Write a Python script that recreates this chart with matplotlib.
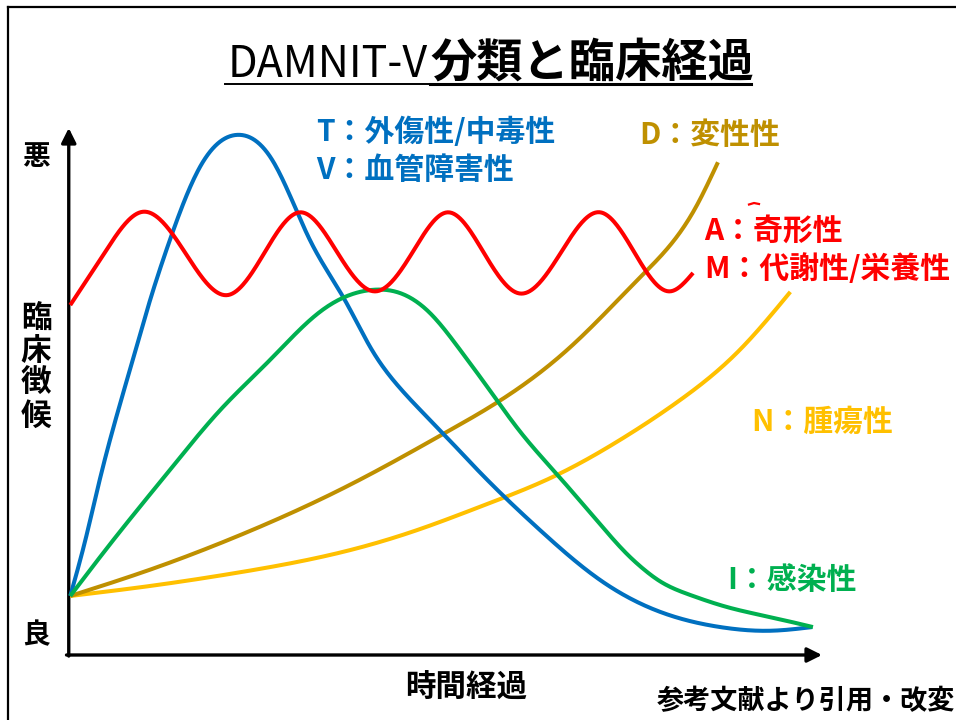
import matplotlib
matplotlib.use('Agg')
import numpy as np
import matplotlib.pyplot as plt
from matplotlib.lines import Line2D

plt.rcParams['font.family'] = ['Noto Sans CJK JP', 'DejaVu Sans']

# ---------------- data (time 0-100, severity 0-100) ----------------
blue_t = [0.3, 2.3, 4.2, 8.2, 10.9, 13.5, 17.5, 22.5, 27.1, 32.1, 36.7, 40.3, 44.0,
          49.3, 54.6, 62.6, 70.6, 78.5, 86.5, 93.1, 98.7]
blue_v = [11.2, 21.8, 33.2, 54.1, 67.4, 78.7, 92.6, 98.7, 93.9, 78.7, 67.4, 57.9, 50.7,
          42.7, 34.7, 23.7, 14.2, 8.2, 5.3, 4.6, 5.3]

green_t = [0.3, 6.0, 13.5, 20.2, 26.8, 33.4, 40.5, 44.0, 48.0, 52.0, 55.6, 59.9, 64.9,
           71.0, 73.9, 76.5, 78.5, 82.5, 87.4, 93.1, 98.8]
green_v = [11.2, 21.8, 35.1, 46.5, 56.0, 65.1, 69.3, 68.7, 64.9, 57.9, 50.9, 42.5, 34.2,
           24.1, 19.5, 16.1, 14.0, 11.4, 9.1, 7.2, 5.3]

gold_t = [0.3, 10.9, 22.4, 37.4, 50.7, 54.6, 61.3, 66.6, 75.9, 83.2, 86.2]
gold_v = [11.2, 16.2, 22.5, 32.3, 42.7, 45.9, 52.2, 58.4, 71.7, 84.8, 93.5]

yellow_t = [0.3, 10.9, 22.4, 37.4, 46.7, 54.6, 64.9, 73.2, 81.2, 89.1, 95.8]
yellow_v = [11.2, 13.1, 15.6, 19.9, 23.9, 28.1, 34.2, 40.8, 48.4, 57.9, 68.9]

red_t = [0.3, 4.8, 9.9, 15.6, 21.2, 26.0, 30.8, 35.8, 40.7, 45.6, 50.4, 55.2, 59.9,
         65.3, 70.6, 75.2, 79.8, 82.9]
red_v = [66.4, 76.2, 84.1, 76.2, 68.3, 76.2, 84.0, 76.2, 69.0, 76.2, 84.0, 76.2, 68.6,
         76.2, 84.0, 76.2, 69.0, 72.5]

title_latin = 'DAMNIT-V'
title_cjk = '分類と臨床経過'
y_top_label = '悪'
y_mid_label = '臨床徴候'
y_bottom_label = '良'
x_label = '時間経過'
source_label = '参考文献より引用・改変'

C_BLUE = '#0070C0'
C_RED = '#FF0000'
C_GREEN = '#00B050'
C_GOLD = '#BF9000'
C_YELLOW = '#FFC000'

W, H = 956, 720
fig = plt.figure(figsize=(W / 100, H / 100), dpi=100)


def fx(px):
    return px / W


def fy(py):
    return 1 - py / H


ax = fig.add_axes([fx(68), fy(655), (822 - 68) / W, (655 - 128) / H])
ax.set_xlim(0, 100)
ax.set_ylim(0, 100)
ax.axis('off')


def natural_spline(xs, ys, n=600):
    x = np.asarray(xs, float)
    y = np.asarray(ys, float)
    m = len(x)
    h = np.diff(x)
    A = np.zeros((m, m))
    b = np.zeros(m)
    A[0, 0] = 1
    A[-1, -1] = 1
    for i in range(1, m - 1):
        A[i, i - 1] = h[i - 1]
        A[i, i] = 2 * (h[i - 1] + h[i])
        A[i, i + 1] = h[i]
        b[i] = 6 * ((y[i + 1] - y[i]) / h[i] - (y[i] - y[i - 1]) / h[i - 1])
    M = np.linalg.solve(A, b)
    xx = np.linspace(x[0], x[-1], n)
    idx = np.clip(np.searchsorted(x, xx) - 1, 0, m - 2)
    x0, x1 = x[idx], x[idx + 1]
    hh = x1 - x0
    t0 = x1 - xx
    t1 = xx - x0
    yy = (M[idx] * t0 ** 3 / (6 * hh) + M[idx + 1] * t1 ** 3 / (6 * hh)
          + (y[idx] / hh - M[idx] * hh / 6) * t0
          + (y[idx + 1] / hh - M[idx + 1] * hh / 6) * t1)
    return xx, yy


def curve(xs, ys, color, z):
    xx, yy = natural_spline(xs, ys)
    ax.plot(xx, yy, color=color, lw=2.9, solid_joinstyle='round',
            solid_capstyle='butt', zorder=z, clip_on=False)


# axes arrows
arrow_kw = dict(arrowstyle='-|>', color='black', lw=2.4, mutation_scale=22,
                shrinkA=0, shrinkB=0)
ax.annotate('', xy=(0.1, 100), xytext=(0.1, -0.2), arrowprops=arrow_kw,
            annotation_clip=False, zorder=1)
ax.annotate('', xy=(100, 0), xytext=(-0.2, 0), arrowprops=arrow_kw,
            annotation_clip=False, zorder=1)

curve(yellow_t, yellow_v, C_YELLOW, 2)
curve(gold_t, gold_v, C_GOLD, 3)
curve(blue_t, blue_v, C_BLUE, 4)
curve(green_t, green_v, C_GREEN, 5)
curve(red_t, red_v, C_RED, 6)

# frame lines (top and left)
fig.add_artist(Line2D([fx(8), fx(W)], [fy(7), fy(7)], transform=fig.transFigure,
                      color='black', lw=1.6))
fig.add_artist(Line2D([fx(8), fx(8)], [fy(7), fy(H)], transform=fig.transFigure,
                      color='black', lw=1.6))

# small red stroke above the A label
fig.add_artist(Line2D([fx(749), fx(754), fx(759)], [fy(204.5), fy(203), fy(204)],
                      transform=fig.transFigure, color=C_RED, lw=1.6))

# title
fig.text(fx(428), fy(77), title_latin, ha='right', va='baseline', fontsize=31,
         fontweight='normal', color='black')
fig.text(fx(430), fy(77), title_cjk, ha='left', va='baseline', fontsize=33.3,
         fontweight='bold', color='black')
fig.add_artist(Line2D([fx(225), fx(430)], [fy(84), fy(84)], transform=fig.transFigure,
                      color='black', lw=1.4))
fig.add_artist(Line2D([fx(430), fx(751)], [fy(83.5), fy(83.5)], transform=fig.transFigure,
                      color='black', lw=2.2))

# axis labels
lab_kw = dict(ha='center', va='center', fontweight='bold', color='black')
fig.text(fx(36), fy(157), y_top_label, fontsize=20, **lab_kw)
fig.text(fx(36), fy(367), '\n'.join(y_mid_label), fontsize=22, linespacing=1.02, **lab_kw)
fig.text(fx(36), fy(635), y_bottom_label, fontsize=20, **lab_kw)
fig.text(fx(466), fy(688), x_label, fontsize=22, **lab_kw)
fig.text(fx(657), fy(701), source_label, ha='left', va='center', fontsize=19.5,
         fontweight='bold', color='black')

# series labels
s_kw = dict(ha='left', va='center', fontsize=21.5, fontweight='bold')
fig.text(fx(316), fy(132), 'T：外傷性/中毒性', color=C_BLUE, **s_kw)
fig.text(fx(316), fy(170), 'V：血管障害性', color=C_BLUE, **s_kw)
fig.text(fx(639), fy(135), 'D：変性性', color=C_GOLD, **s_kw)
fig.text(fx(704), fy(231), 'A：奇形性', color=C_RED, **s_kw)
fig.text(fx(704), fy(269), 'M：代謝性/栄養性', color=C_RED, **s_kw)
fig.text(fx(751), fy(422), 'N：腫瘍性', color=C_YELLOW, **s_kw)
fig.text(fx(727), fy(580), 'I：感染性', color=C_GREEN, **s_kw)

fig.savefig('out.png', dpi=100, facecolor='white')
